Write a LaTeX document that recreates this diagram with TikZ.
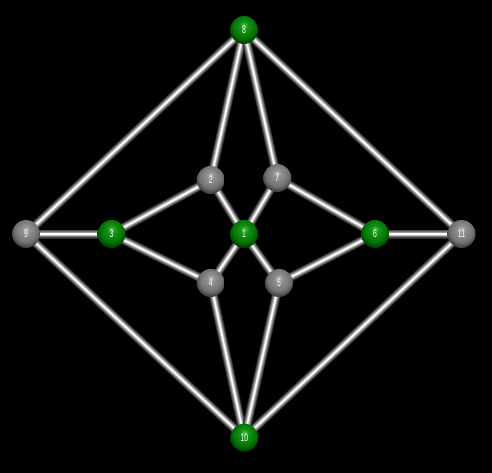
\documentclass[tikz,border=0pt]{standalone}
\usepackage{fontspec}
\setsansfont{Liberation Sans}
\pgfdeclarelayer{bg}
\pgfdeclarelayer{back}
\pgfsetlayers{back,bg,main}
\definecolor{ghi}{RGB}{90,200,90}
\definecolor{gmid}{RGB}{20,150,20}
\definecolor{gmid2}{RGB}{5,115,5}
\definecolor{glo}{RGB}{0,60,0}
\definecolor{shi}{RGB}{185,185,185}
\definecolor{smid}{RGB}{145,145,145}
\definecolor{smid2}{RGB}{115,115,115}
\definecolor{slo}{RGB}{60,60,60}
\pgfdeclareradialshading{gball}{\pgfpoint{0bp}{9bp}}{color(0bp)=(ghi); color(7bp)=(gmid); color(20bp)=(gmid2); color(28bp)=(glo); color(50bp)=(glo)}
\pgfdeclareradialshading{sball}{\pgfpoint{0bp}{9bp}}{color(0bp)=(shi); color(7bp)=(smid); color(20bp)=(smid2); color(28bp)=(slo); color(50bp)=(slo)}
\newcommand{\lbl}[1]{\scalebox{0.62}[1]{#1}}
\tikzset{
  ball/.style={circle, minimum size=28pt, inner sep=0pt, text=white,
    font=\fontsize{11}{11}\sffamily},
  gnode/.style={ball, shading=gball},
  snode/.style={ball, shading=sball},
  rod/.style={line cap=butt},
}
\newcommand{\rodline}[2]{%
  \draw[rod, line width=9pt, black!85] (#1.center) -- (#2.center);
  \draw[rod, line width=7.5pt, black!70] (#1.center) -- (#2.center);
  \draw[rod, line width=6pt, black!55] (#1.center) -- (#2.center);
  \draw[rod, line width=4.5pt, black!40] (#1.center) -- (#2.center);
  \draw[rod, line width=3pt, black!22] (#1.center) -- (#2.center);
  \draw[rod, line width=1.5pt, white] (#1.center) -- (#2.center);
}
\begin{document}
\begin{tikzpicture}[x=1pt,y=-1pt]
\begin{pgfonlayer}{back}
\fill[black] (0,0) rectangle (492,473);
\end{pgfonlayer}
\useasboundingbox (0,0) rectangle (492,473);
\node[gnode] (n8) at (244,30) {\lbl{8}};
\node[snode] (n9) at (26,234) {\lbl{9}};
\node[gnode] (n3) at (111.5,234) {\lbl{3}};
\node[snode] (n2) at (210.7,180) {\lbl{2}};
\node[snode] (n7) at (277.3,178) {\lbl{7}};
\node[gnode] (n1) at (244,234) {\lbl{1}};
\node[gnode] (n6) at (375,234) {\lbl{6}};
\node[snode] (n11) at (461.5,234) {\lbl{11}};
\node[snode] (n4) at (210.7,283) {\lbl{4}};
\node[snode] (n5) at (279,283) {\lbl{5}};
\node[gnode] (n10) at (244.3,437.7) {\lbl{10}};
\begin{pgfonlayer}{bg}
\rodline{n8}{n9}
\rodline{n8}{n11}
\rodline{n8}{n2}
\rodline{n8}{n7}
\rodline{n9}{n3}
\rodline{n9}{n10}
\rodline{n11}{n6}
\rodline{n11}{n10}
\rodline{n3}{n2}
\rodline{n3}{n4}
\rodline{n2}{n1}
\rodline{n7}{n1}
\rodline{n7}{n6}
\rodline{n1}{n4}
\rodline{n1}{n5}
\rodline{n6}{n5}
\rodline{n4}{n10}
\rodline{n5}{n10}
\end{pgfonlayer}
\end{tikzpicture}
\end{document}
